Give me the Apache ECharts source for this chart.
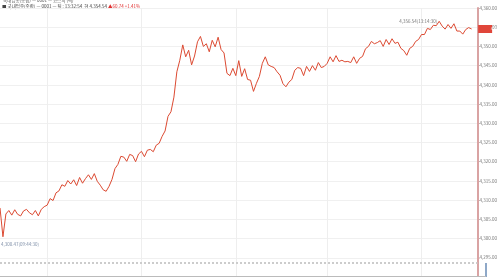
<!DOCTYPE html>
<html><head><meta charset="utf-8">
<script src="https://cdn.jsdelivr.net/npm/echarts@6/dist/echarts.min.js"></script>
<style>html,body{margin:0;padding:0;background:#fff}#c{width:500px;height:277px}</style>
</head><body><div id="c"></div>
<script>
// ---- data ----
const prices = [
4307.96,4300.47,4306.40,4307.30,4306.10,4307.50,4306.30,4305.90,4307.20,4307.60,
4306.70,4306.20,4307.30,4305.90,4307.60,4308.30,4308.70,4310.40,4309.90,4311.90,
4312.40,4314.00,4313.60,4315.10,4314.20,4315.30,4313.80,4315.90,4314.40,4315.60,
4316.60,4315.40,4316.90,4314.90,4313.90,4312.70,4312.30,4313.60,4315.40,4318.20,
4319.30,4321.40,4321.20,4320.10,4321.90,4321.60,4320.00,4322.00,4322.70,4321.30,
4323.00,4323.20,4322.60,4324.30,4324.80,4326.60,4328.00,4331.80,4333.00,4336.80,
4343.40,4346.40,4350.40,4347.30,4349.00,4345.20,4347.50,4351.20,4352.60,4350.00,
4350.70,4348.60,4351.60,4349.90,4352.40,4349.20,4348.30,4343.00,4342.40,4344.30,
4342.40,4346.30,4342.20,4344.20,4341.40,4341.20,4338.30,4340.40,4342.20,4345.60,
4347.30,4345.20,4344.80,4344.50,4343.40,4342.50,4340.30,4339.50,4340.70,4341.40,
4343.80,4344.50,4344.30,4342.40,4344.80,4343.50,4345.00,4343.80,4345.80,4344.50,
4344.80,4345.60,4347.30,4346.00,4347.60,4346.10,4346.40,4346.00,4346.10,4345.80,
4347.30,4345.60,4346.90,4347.40,4349.40,4350.00,4351.30,4350.70,4351.00,4351.50,
4350.00,4351.80,4350.50,4352.00,4350.80,4351.10,4349.50,4348.90,4347.70,4349.50,
4350.00,4351.30,4351.80,4353.10,4353.10,4354.70,4354.40,4355.50,4355.40,4356.54,
4355.30,4354.50,4355.70,4354.70,4355.90,4354.00,4354.00,4353.20,4354.40,4354.90,
4354.54
];
const categoryCount = 163;
const categories = [];
for (let i = 0; i < categoryCount; i++) {
  const s = 9*3600 + 42*60 + 36 + i*85;
  const hh = String(Math.floor(s/3600)).padStart(2,'0');
  const mm = String(Math.floor(s%3600/60)).padStart(2,'0');
  const ss = String(s%60).padStart(2,'0');
  categories.push(hh + ':' + mm + ':' + ss);
}
const gridLineIdx = [16, 48, 80, 111, 143];
const prevClose = 4293.80;
const current = 4354.54;
const yMin = 4290, yMax = 4360, yStep = 5;
const maxLabel = '4,356.54(13:14:30)';
const minLabel = '4,300.47(09:44:30)';
const header1 = '국내업종(종합) — 0001 — 코스피 (틱)';
const header2a = '■ 국내업종(종합) — 0001 — 틱 : 13:32:54  현 4,354.54 ';
const header2b = '▲60.74 +1.41%';

const fmt = v => v.toLocaleString('en-US', {minimumFractionDigits: 2, maximumFractionDigits: 2});
const FONT = '"Noto Sans CJK KR", "Noto Sans", sans-serif';

const chart = echarts.init(document.getElementById('c'), null, {renderer: 'canvas'});
chart.setOption({
  animation: false,
  backgroundColor: '#ffffff',
  textStyle: {fontFamily: FONT},
  grid: {left: 0, right: 14, top: 8, bottom: 0, containLabel: false},
  xAxis: {
    type: 'category', data: categories, boundaryGap: false,
    axisLine: {show: false}, axisTick: {show: false}, axisLabel: {show: false},
    splitLine: {show: true, interval: (i) => gridLineIdx.includes(i),
      lineStyle: {color: '#eeeeee', width: 1}}
  },
  yAxis: {
    type: 'value', position: 'right', min: yMin, max: yMax, interval: yStep,
    axisLine: {show: true, lineStyle: {color: '#d9a3a3', width: 2}},
    axisTick: {show: true, length: 2, lineStyle: {color: '#d9a3a3'}},
    axisLabel: {show: true, fontSize: 4.5, color: '#777', margin: 2, fontFamily: FONT,
      showMinLabel: false, formatter: v => fmt(v)},
    splitLine: {show: true, lineStyle: {color: '#f0f0f0', width: 1}}
  },
  graphic: [
    {type: 'text', left: 3, top: -2, style: {text: header1, fontSize: 4.5, fill: '#555', fontFamily: FONT}},
    {type: 'text', left: 2, top: 4, style: {
      text: '{a|' + header2a + '}{b|' + header2b + '}',
      rich: {a: {fontSize: 4.5, fill: '#444', fontFamily: FONT}, b: {fontSize: 4.5, fill: '#e03030', fontFamily: FONT}}}},
    {type: 'line', shape: {x1: 486, y1: 263, x2: 486, y2: 277}, style: {stroke: '#8ea8c8', lineWidth: 2}, z: 10},
    {type: 'line', shape: {x1: 0, y1: 276.5, x2: 486, y2: 276.5}, style: {stroke: '#bbbbbb', lineWidth: 1}, z: 10}
  ],
  series: [{
    type: 'line', data: prices, symbol: 'none', smooth: false, clip: false,
    lineStyle: {color: '#dc4a32', width: 1},
    markPoint: {
      symbol: 'circle', symbolSize: 0,
      data: [
        {type: 'max', label: {show: true, formatter: maxLabel, position: 'left', distance: 2,
          fontSize: 4.5, color: '#777', fontFamily: FONT}},
        {type: 'min', label: {show: true, formatter: minLabel, position: [-2, 5], align: 'left', verticalAlign: 'top',
          fontSize: 4.5, color: '#7f8fa8', fontFamily: FONT}},
        {coord: [prices.length - 1, current], symbol: 'rect', symbolSize: [14, 8], symbolOffset: [13.5, 0],
          itemStyle: {color: '#e0463a'},
          label: {show: true, position: 'inside', formatter: fmt(current), fontSize: 4, color: '#fff',
            offset: [13.5, 0], fontFamily: FONT}}
      ]
    },
    markLine: {
      symbol: 'none', silent: true,
      data: [
        {yAxis: prevClose, lineStyle: {color: '#cccccc', type: 'dotted', width: 2}, label: {show: false}}
      ]
    }
  }]
});
</script>
</body></html>
